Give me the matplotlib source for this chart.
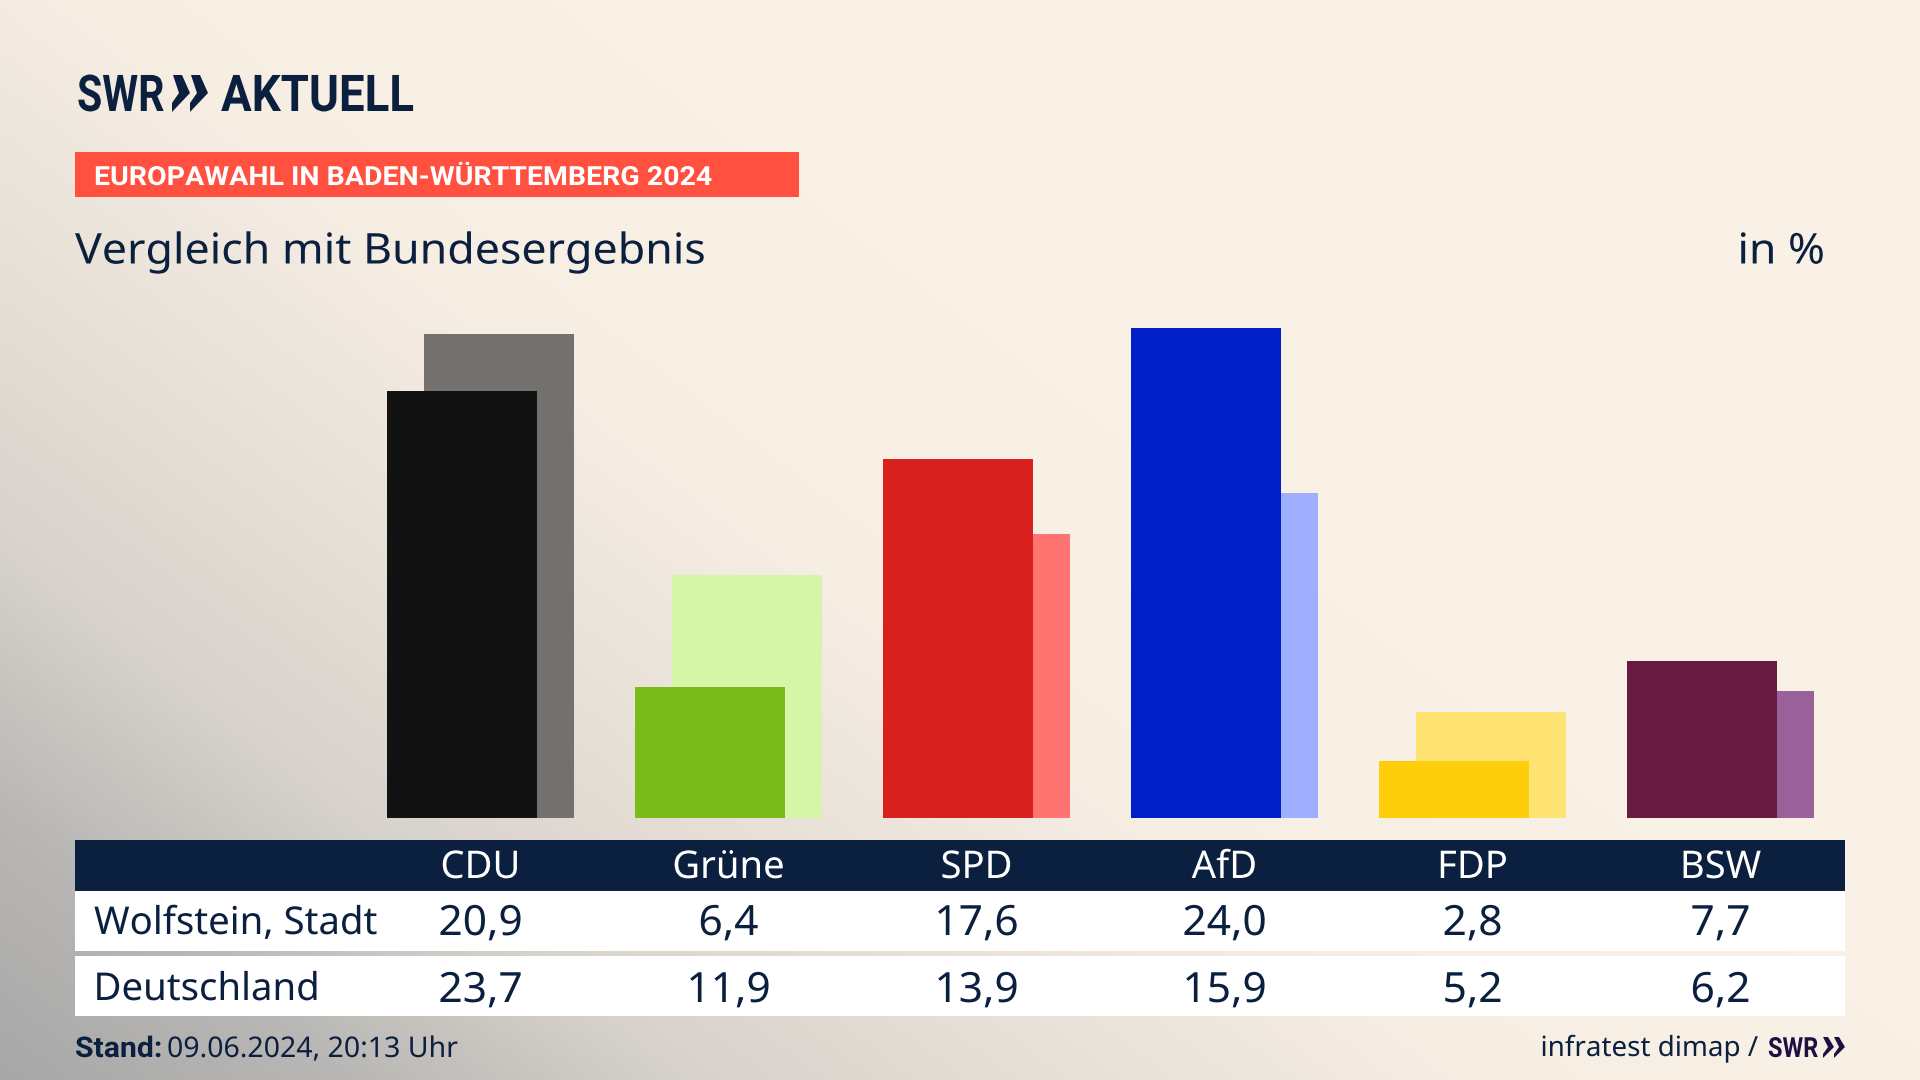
import numpy as np
import matplotlib
matplotlib.use("Agg")
import matplotlib.pyplot as plt
from matplotlib.patches import Rectangle, Polygon
from matplotlib.patheffects import AbstractPathEffect
from matplotlib.transforms import Affine2D, blended_transform_factory

parties = ["CDU", "Grüne", "SPD", "AfD", "FDP", "BSW"]
row_labels = ["Wolfstein, Stadt", "Deutschland"]
local_values = [20.9, 6.4, 17.6, 24.0, 2.8, 7.7]
national_values = [23.7, 11.9, 13.9, 15.9, 5.2, 6.2]
local_colors = ["#121212", "#7ABB1B", "#D8201E", "#001FC7", "#FFCE0A", "#691A40"]
national_colors = ["#73716E", "#D7F5A9", "#FF7370", "#A0AEFF", "#FFE372", "#9A609A"]

NAVY = "#0B1F3F"
PURPLE = "#1E0F45"
FONT = "Noto Sans"
BOLD = "Roboto"
W, H = 1920, 1080


class Stretch(AbstractPathEffect):
    """Scale a text horizontally about a fixed display x."""
    def __init__(self, sx, x0):
        super().__init__()
        self.sx, self.x0 = sx, x0

    def draw_path(self, renderer, gc, tpath, affine, rgbFace=None):
        a = affine + Affine2D().translate(-self.x0, 0).scale(self.sx, 1).translate(self.x0, 0)
        renderer.draw_path(gc, tpath, a, rgbFace)


fig = plt.figure(figsize=(19.2, 10.8), dpi=100)

# background
bg = fig.add_axes([0, 0, 1, 1], zorder=0)
yy, xx = np.mgrid[0:H:270j, 0:W:480j]
d = xx / 1300 + (H - yy) / 1000
t = np.interp(d, [0, 0.26, 0.54, 0.9, 1.15, 1.5], [1, 0.8, 0.42, 0.18, 0.04, 0])
cream = np.array([0xFA, 0xF1, 0xE6]) / 255
grey = np.array([0xA8, 0xA8, 0xA8]) / 255
img = cream + (grey - cream) * t[..., None]
bg.imshow(img, extent=[0, W, H, 0], aspect="auto", interpolation="bilinear")
bg.axis("off")

# overlay in pixel coordinates
ov = fig.add_axes([0, 0, 1, 1], zorder=1)
ov.set_xlim(0, W)
ov.set_ylim(H, 0)
ov.axis("off")
ov.patch.set_alpha(0)


def put(x, y, s, sx=1.0, anchor=None, **kw):
    kw.setdefault("va", "baseline")
    kw.setdefault("family", FONT)
    kw.setdefault("color", NAVY)
    tx = ov.text(x, y, s, **kw)
    a = x if anchor is None else anchor
    tx.set_path_effects([Stretch(sx, a)])
    return tx


# bars
x0, dx = 480.5, 248
bar_bot = 818
px_per_pct = 20.41
ymax = 30
bar_top = bar_bot - ymax * px_per_pct
ax = fig.add_axes([(x0 - dx) / W, (H - bar_bot) / H, 6.5 * dx / W, (bar_bot - bar_top) / H], zorder=2)
ax.patch.set_alpha(0)
ax.set_xlim(-1, 5.5)
ax.set_ylim(0, ymax)
ax.axis("off")
idx = np.arange(len(parties))
off = 18.5 / dx
bw = 149.5 / dx
ax.bar(idx + off, national_values, width=bw, color=national_colors, linewidth=0)
ax.bar(idx - off, local_values, width=bw, color=local_colors, linewidth=0)

# header
put(77, 111, "SWR", sx=0.81, fontsize=36.5, fontweight="bold", family=BOLD)
put(221, 111, "AKTUELL", sx=0.9, fontsize=36.5, fontweight="bold", family=BOLD)
for cx in (172, 190):
    ov.add_patch(Polygon([(cx + 1, 75), (cx + 10, 75), (cx + 18, 93), (cx, 112), (cx, 103), (cx + 7, 93)], color=NAVY, lw=0))
ov.add_patch(Rectangle((75, 152), 724, 45, color="#FF5040", lw=0))
put(94, 185, "EUROPAWAHL IN BADEN-WÜRTTEMBERG 2024", sx=1.08, fontsize=19, fontweight="bold", family=BOLD, color="white")
put(75, 263.5, "Vergleich mit Bundesergebnis", sx=1.055, fontsize=30.5)
put(1825, 263.5, "in %", sx=1.05, fontsize=30.5, ha="right")

# table
ov.add_patch(Rectangle((75, 840), 1770, 51, color=NAVY, lw=0))
ov.add_patch(Rectangle((75, 891), 1770, 60, color="white", lw=0))
ov.add_patch(Rectangle((75, 956), 1770, 60, color="white", lw=0))
tr = blended_transform_factory(ax.transData, ov.transData)
for i, p in enumerate(parties):
    cx = x0 + i * dx
    put(i, 878, p, sx=1.0, anchor=cx, transform=tr, ha="center", fontsize=27.5, color="white")
    put(i, 935, f"{local_values[i]:.1f}".replace(".", ","), sx=1.02, anchor=cx, transform=tr, ha="center", fontsize=30)
    put(i, 1002, f"{national_values[i]:.1f}".replace(".", ","), sx=1.02, anchor=cx, transform=tr, ha="center", fontsize=30)
put(94, 934, row_labels[0], fontsize=27.6)
put(93.5, 1000, row_labels[1], fontsize=27.6)

# footer
put(75, 1057, "Stand:", sx=1.06, fontsize=20.5, fontweight="bold", family=BOLD)
put(167, 1057, "09.06.2024, 20:13 Uhr", fontsize=20.5)
put(1758, 1056, "infratest dimap /", fontsize=20, ha="right")
put(1768, 1057, "SWR", sx=0.85, fontsize=20, fontweight="bold", family=BOLD, color=PURPLE)
for cx in (1823, 1834):
    ov.add_patch(Polygon([(cx, 1037), (cx + 5, 1037), (cx + 11, 1047), (cx, 1058), (cx, 1054), (cx + 5, 1047)], color=PURPLE, lw=0))

fig.savefig("out.png", dpi=100)
